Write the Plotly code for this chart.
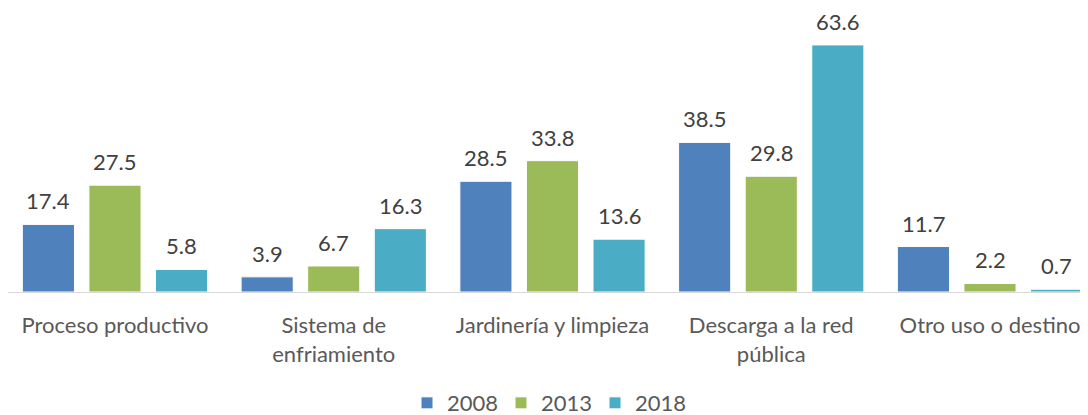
import plotly.graph_objects as go

categories = ["Proceso productivo", "Sistema de<br>enfriamiento", "Jardinería y limpieza",
              "Descarga a la red<br>pública", "Otro uso o destino"]
years = ["2008", "2013", "2018"]
v2008 = [17.4, 3.9, 28.5, 38.5, 11.7]
v2013 = [27.5, 6.7, 33.8, 29.8, 2.2]
v2018 = [5.8, 16.3, 13.6, 63.6, 0.7]
colors = ["#4F81BD", "#9BBB59", "#4BACC6"]

series = [v2008, v2013, v2018]
xs = list(range(len(categories)))

fig = go.Figure()
for name, vals, col in zip(years, series, colors):
    fig.add_trace(go.Bar(x=xs, y=vals, name=name, marker=dict(color=col, line=dict(color="white", width=1))))

bargap = 0.087
slot = (1 - bargap) / 3
font_family = "Lato"
fs = 22
for k, vals in enumerate(series):
    off = (k - 1) * slot
    for i, v in enumerate(vals):
        fig.add_annotation(x=i + off, y=v, text=f"{v:.1f}", showarrow=False,
                           yanchor="bottom", yshift=9, borderpad=0,
                           font=dict(size=fs, color="#404040", family=font_family))

fig.update_layout(
    width=1080, height=407,
    margin=dict(l=0, r=0, t=0, b=123, autoexpand=False),
    plot_bgcolor="white", paper_bgcolor="white",
    barmode="group", bargap=bargap, bargroupgap=0.217,
    font=dict(family=font_family, size=fs, color="#595959"),
    xaxis=dict(tickmode="array", tickvals=xs, ticktext=categories, range=[-0.489, 4.448],
               showline=True, linecolor="#D9D9D9", linewidth=1, ticks="",
               tickfont=dict(size=fs, color="#595959"), ticklabelstandoff=14,
               showgrid=False, zeroline=False, automargin=False),
    yaxis=dict(range=[0, 73.1], visible=False, showgrid=False, zeroline=False, automargin=False),
    legend=dict(orientation="h", x=0.5, xanchor="center", y=-0.391, yref="paper",
                yanchor="middle", font=dict(size=fs, color="#595959"),
                itemwidth=30, entrywidth=49, traceorder="normal"),
)

fig.write_html("out.html")
